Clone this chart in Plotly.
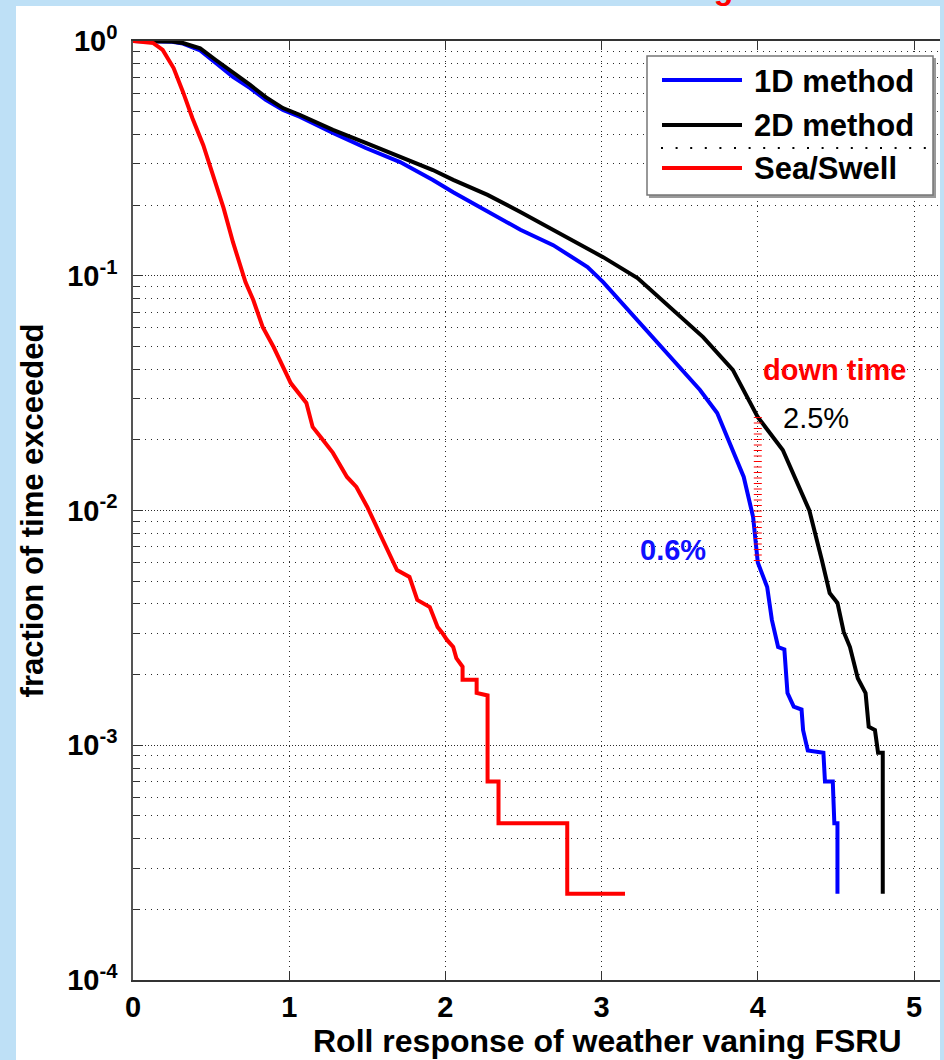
import plotly.graph_objects as go

# ---------------------------------------------------------------- data
# Roll response (deg) vs. fraction of time exceeded
roll_1d = [0.00, 0.17, 0.25, 0.32, 0.38, 0.43, 0.53, 0.64, 0.75, 0.85, 0.96, 1.07, 1.28, 1.49,
           1.71, 1.92, 2.05, 2.27, 2.48, 2.69, 2.91, 3.01, 3.23, 3.44, 3.63, 3.74,
           3.84, 3.91, 3.97, 4.00, 4.06, 4.09, 4.13, 4.17, 4.19, 4.23, 4.28, 4.29,
           4.32, 4.42, 4.43, 4.48, 4.49, 4.51, 4.51]
frac_1d = [1.0, 1.0, 0.993, 0.975, 0.945, 0.912, 0.806, 0.703, 0.630, 0.561, 0.508, 0.475, 0.406, 0.350,
           0.305, 0.256, 0.227, 0.187, 0.157, 0.135, 0.109, 0.094, 0.0648, 0.0451, 0.0326, 0.0260,
           0.0181, 0.0139, 0.00938, 0.006, 0.00472, 0.00342, 0.00262, 0.00256, 0.00167, 0.00146, 0.00142, 0.00116,
           0.00095, 0.00093, 0.0007, 0.0007, 0.000465, 0.000465, 0.000233]

roll_2d = [0.00, 0.17, 0.25, 0.32, 0.38, 0.43, 0.53, 0.64, 0.75, 0.85, 0.96, 1.07, 1.28, 1.49,
           1.71, 1.92, 2.05, 2.27, 2.48, 2.69, 2.91, 3.01, 3.23, 3.44, 3.65, 3.84,
           4.00, 4.16, 4.27, 4.33, 4.41, 4.46, 4.51, 4.55, 4.59, 4.64, 4.69, 4.71,
           4.75, 4.77, 4.80, 4.80]
frac_2d = [1.0, 1.0, 0.995, 0.98, 0.957, 0.93, 0.83, 0.738, 0.65, 0.577, 0.518, 0.484, 0.418, 0.368,
           0.321, 0.282, 0.256, 0.221, 0.187, 0.157, 0.131, 0.120, 0.0978, 0.0736, 0.0548, 0.0397,
           0.025, 0.0181, 0.0122, 0.010, 0.00615, 0.00445, 0.00404, 0.00304, 0.00262, 0.00193, 0.00167, 0.0012,
           0.00116, 0.00093, 0.00093, 0.000233]

roll_sea = [0.00, 0.13, 0.19, 0.26, 0.32, 0.38, 0.45, 0.51, 0.58, 0.64, 0.72, 0.77,
            0.83, 0.90, 0.96, 1.01, 1.11, 1.15, 1.20, 1.28, 1.37, 1.43, 1.50, 1.56,
            1.63, 1.69, 1.77, 1.82, 1.90, 1.95, 1.98, 2.01, 2.05, 2.07, 2.11, 2.11,
            2.20, 2.20, 2.27, 2.27, 2.34, 2.34, 2.78, 2.78, 3.15]
frac_sea = [1.0, 0.98, 0.916, 0.767, 0.607, 0.470, 0.360, 0.269, 0.194, 0.139, 0.094, 0.0788,
            0.0605, 0.0497, 0.0409, 0.0349, 0.0287, 0.0227, 0.0206, 0.0176, 0.0139, 0.0126, 0.01035, 0.0085,
            0.0068, 0.00558, 0.00521, 0.00416, 0.00388, 0.00319, 0.00301, 0.00281, 0.00262, 0.00235, 0.00216, 0.0019,
            0.0019, 0.00167, 0.00163, 0.0007, 0.0007, 0.000465, 0.000465, 0.000233, 0.000233]

# down-time band at the 4 deg roll criterion
limit_roll = 4.0
downtime_2d = 0.025
downtime_1d = 0.006

series_names = ["1D method", "2D method", "Sea/Swell"]
series_colors = ["#0000ff", "#000000", "#ff0000"]

x_ticks = [0, 1, 2, 3, 4, 5]
y_decades = [1e-4, 1e-3, 1e-2, 1e-1, 1e0]
y_ticktext = ["10<sup>-4</sup>", "10<sup>-3</sup>", "10<sup>-2</sup>", "10<sup>-1</sup>", "10<sup>0</sup>"]
y_minor = [m * d for d in [1e-4, 1e-3, 1e-2, 1e-1] for m in range(2, 10)]

# ---------------------------------------------------------------- layout geometry
W, H = 944, 1060
ML, MR, MT, MB = 133, 4, 41, 80
PW, PH = W - ML - MR, H - MT - MB
UNIT = 156.2  # pixels per degree on the x axis


def px_x(p):
    return (p - ML) / PW


def px_y(p):
    return (H - MB - p) / PH


FONT = "Liberation Sans, Arial, Helvetica, sans-serif"
GRID = "#2a2a2a"

fig = go.Figure()

for xs, ys, name, col in zip([roll_1d, roll_2d, roll_sea], [frac_1d, frac_2d, frac_sea],
                             series_names, series_colors):
    fig.add_trace(go.Scatter(x=xs, y=ys, mode="lines", name=name,
                             line=dict(color=col, width=4), showlegend=False))

# vertical hatched marker between the two down-time levels
fig.add_trace(go.Scatter(x=[limit_roll, limit_roll], y=[downtime_2d, downtime_1d], mode="lines",
                         line=dict(color="#ff0000", width=8, dash="1px,4.5px"),
                         showlegend=False, hoverinfo="skip"))

shapes = [
    # white panel behind the axes
    dict(type="rect", xref="paper", yref="paper", layer="below",
         x0=px_x(16), x1=px_x(940), y0=px_y(1062), y1=px_y(6),
         fillcolor="white", line=dict(width=0)),
    # legend box with shadow
    dict(type="rect", xref="paper", yref="paper", layer="above",
         x0=px_x(649), x1=px_x(936), y0=px_y(198), y1=px_y(58),
         fillcolor="#9a9a9a", line=dict(width=0)),
    dict(type="rect", xref="paper", yref="paper", layer="above",
         x0=px_x(647), x1=px_x(933), y0=px_y(195), y1=px_y(56),
         fillcolor="white", line=dict(color="#777777", width=1.5)),
]
legend_rows = [80, 125, 168]
for yrow, col in zip(legend_rows, series_colors):
    shapes.append(dict(type="line", xref="paper", yref="paper", layer="above",
                       x0=px_x(662), x1=px_x(742), y0=px_y(yrow), y1=px_y(yrow),
                       line=dict(color=col, width=4)))
shapes.append(dict(type="line", xref="paper", yref="paper", layer="above",
                   x0=px_x(661), x1=px_x(930), y0=px_y(148), y1=px_y(148),
                   line=dict(color="black", width=2, dash="2px,12.6px")))

annotations = []
for yrow, name in zip([82, 126, 169], series_names):
    annotations.append(dict(xref="paper", yref="paper", x=px_x(752), y=px_y(yrow),
                            xanchor="left", yanchor="middle", showarrow=False, text=name,
                            font=dict(family=FONT, size=31, color="black", weight="bold")))

annotations += [
    dict(xref="x", yref="y", x=4.49, y=-1.40, text="down time", showarrow=False,
         xanchor="center", yanchor="middle",
         font=dict(family=FONT, size=29, color="#ff0000", weight="bold")),
    dict(xref="x", yref="y", x=4.37, y=-1.606, text="2.5%", showarrow=False,
         xanchor="center", yanchor="middle",
         font=dict(family=FONT, size=29, color="black")),
    dict(xref="x", yref="y", x=3.46, y=-2.168, text="0.6%", showarrow=False,
         xanchor="center", yanchor="middle",
         font=dict(family=FONT, size=29, color="#1010ff", weight="bold")),
    # heading, mostly above the page edge
    dict(xref="paper", yref="paper", x=px_x(735), y=px_y(-12), text="Roll downtime with weather vaning",
         showarrow=False, xanchor="right", yanchor="middle",
         font=dict(family=FONT, size=32, color="#ff0000", weight="bold")),
    # x-axis title (the axis continues past the right edge, so it sits right of centre)
    dict(xref="paper", yref="paper", x=px_x(607), y=px_y(1041), text="Roll response of weather vaning FSRU",
         showarrow=False, xanchor="center", yanchor="middle",
         font=dict(family=FONT, size=32, color="black", weight="bold")),
]

tickfont = dict(family=FONT, size=29, color="black", weight="bold")
titlefont = dict(family=FONT, size=31, color="black", weight="bold")

fig.update_layout(
    width=W, height=H,
    margin=dict(l=ML, r=MR, t=MT, b=MB, pad=0),
    paper_bgcolor="#bee0f6",
    plot_bgcolor="white",
    shapes=shapes,
    annotations=annotations,
    xaxis=dict(range=[0, PW / UNIT], tickmode="array", tickvals=x_ticks,
               ticks="inside", ticklen=9, tickwidth=1, tickcolor="#333",
               showline=True, linecolor="#333", linewidth=1.5, mirror="ticks",
               showgrid=True, gridcolor=GRID, gridwidth=1, griddash="1px,4px",
               zeroline=False, tickfont=tickfont, ticklabelstandoff=0),
    yaxis=dict(type="log", range=[-4, 0], tickmode="array", tickvals=y_decades, ticktext=y_ticktext,
               ticks="inside", ticklen=10, tickwidth=1, tickcolor="#333",
               showline=True, linecolor="#555", linewidth=1.5, mirror=False,
               showgrid=True, gridcolor=GRID, gridwidth=1, griddash="1px,2px",
               zeroline=False, tickfont=tickfont, ticklabelstandoff=8,
               minor=dict(tickvals=y_minor, ticks="inside", ticklen=6, tickcolor="#333",
                          showgrid=True, gridcolor=GRID, gridwidth=1, griddash="1px,5px"),
               title=dict(text="fraction of time exceeded", font=titlefont, standoff=14)),
)

fig.write_html("out.html")
